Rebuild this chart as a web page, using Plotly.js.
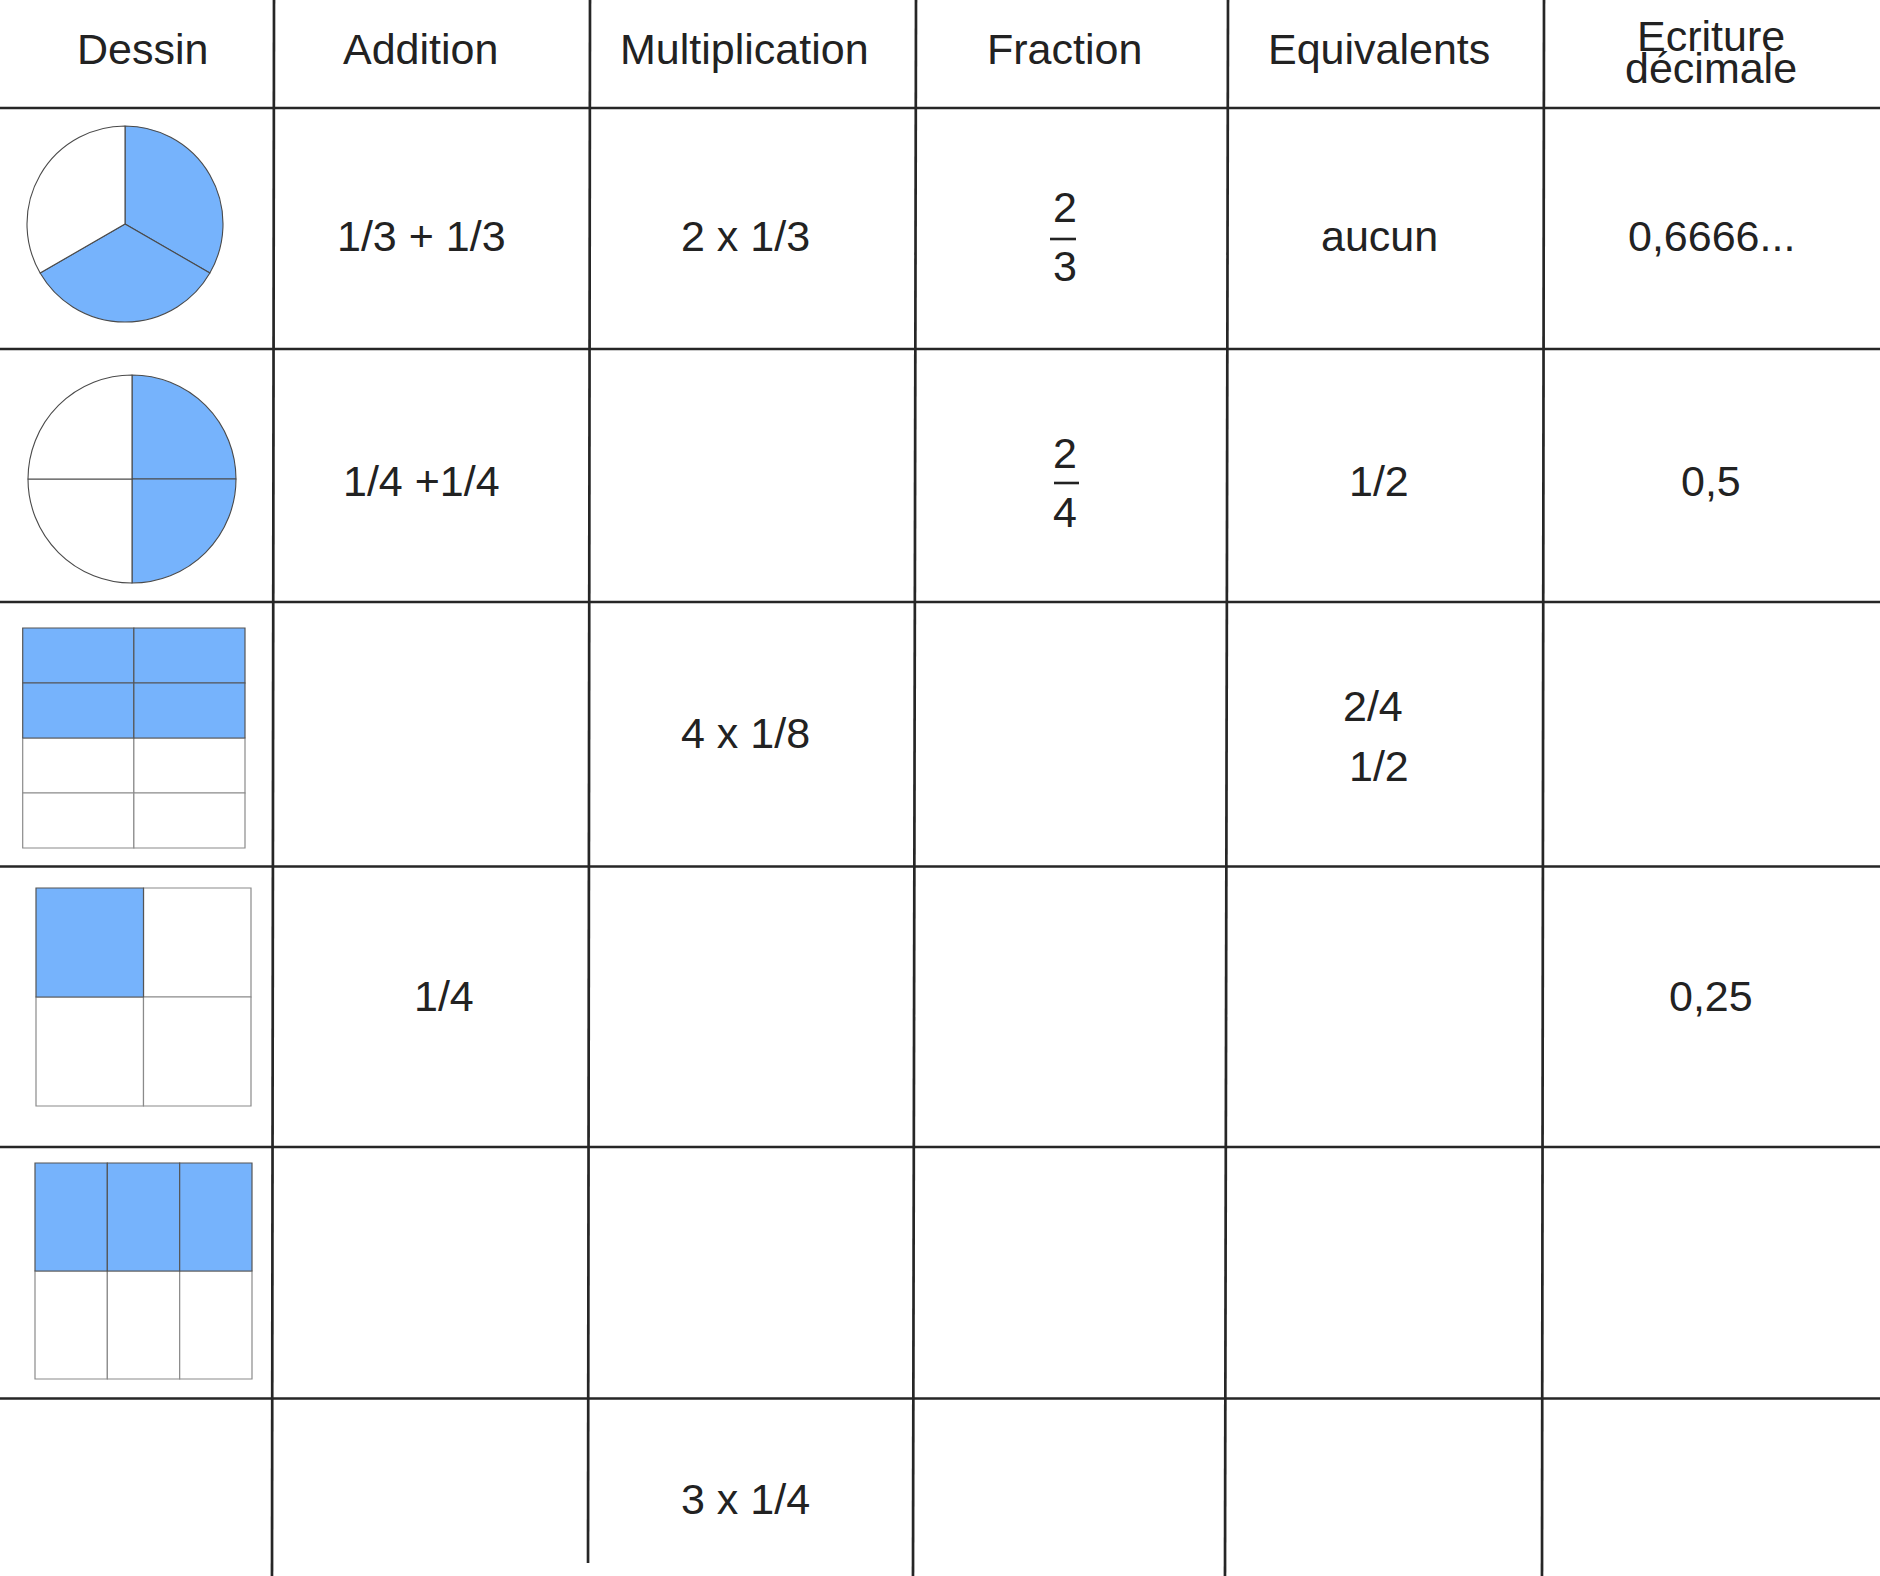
<!DOCTYPE html>
<html>
<head>
<meta charset="utf-8">
<script src="https://cdn.plot.ly/plotly-3.0.1.min.js"></script>
<style>
html,body{margin:0;padding:0;background:#fff;}
#chart{width:1880px;height:1576px;}
</style>
</head>
<body>
<div id="chart"></div>
<script>
// ---------------- DATA ----------------
const headers = ['Dessin', 'Addition', 'Multiplication', 'Fraction', 'Equivalents', 'Ecriture|décimale'];
const additionCol = ['1/3 + 1/3', '1/4 +1/4', '', '1/4', '', ''];
const multiplicationCol = ['2 x 1/3', '', '4 x 1/8', '', '', '3 x 1/4'];
const fractionNum = ['2', '2', '', '', '', ''];
const fractionDen = ['3', '4', '', '', '', ''];
const equivalentsCol = ['aucun', '1/2', '2/4|1/2', '', '', ''];
const decimalCol = ['0,6666...', '0,5', '', '0,25', '', ''];
// drawings: pies (rows 1-2) and rectangular grids (rows 3-5)
const pieParts = [[1, 1, 1], [1, 1, 1, 1]];
const pieShaded = [[1, 1, 0], [1, 1, 0, 0]];
const gridCols = [2, 2, 3];
const gridRows = [4, 2, 2];
const gridShaded = [[1, 1, 1, 1, 0, 0, 0, 0], [1, 0, 0, 0], [1, 1, 1, 0, 0, 0]];

// ---------------- LAYOUT CONSTANTS ----------------
const W = 1880, H = 1576;
const BLUE = '#76b3fc';
const INK = '#222222';
const GRIDC = '#262626';
const FONT = 'Liberation Sans, Arial, sans-serif';
const FS = 43;
// table lines [xTop, xBottom, yEnd]
const vLines = [[274, 272, H], [590, 588, 1563], [916, 913, H], [1228, 1225, H], [1544, 1542, H]];
const hLines = [108, 349, 602, 866.5, 1147, 1398.5];
// text centres
const headX = [142.6, 420.6, 744.6, 1064.7, 1379, 1711];
const headY = 49, headY2 = [35.5, 68];
const rowY = [235.5, 481, 733, 996, 1270, 1499];
const addX = [421, 421, 421, 444, 421, 421];
const mulX = 745, eqX = 1379, decX = 1711;
const eqSplit = [[1373, 705.5], [1379, 765.5]];
const fracX = 1064.7;
const fracNumY = [206.5, 453], fracDenY = [266, 512], fracBarY = [239, 483];
const fracBarX = [[1050, 1076], [1054, 1079]];
// drawing boxes
const pieBox = [[125, 224, 98], [132, 479, 104]];
const gridBox = [[22.7, 628, 245, 848], [36, 888, 251, 1106], [35, 1163, 252, 1379]];

// ---------------- BUILD ----------------
const shapes = [];
const annotations = [];
const traces = [];

function txt(x, y, t) {
  annotations.push({x: x, y: y, xref: 'x', yref: 'y', text: t, showarrow: false,
    xanchor: 'center', yanchor: 'middle', font: {family: FONT, size: FS, color: INK}});
}

// table grid lines
hLines.forEach(y => shapes.push({type: 'line', xref: 'x', yref: 'y', x0: 0, x1: W, y0: y, y1: y,
  line: {color: GRIDC, width: 2.7}}));
vLines.forEach(v => shapes.push({type: 'line', xref: 'x', yref: 'y', x0: v[0], x1: v[1] + (v[0] - v[1]) * (1 - v[2] / H), y0: 0, y1: v[2],
  line: {color: GRIDC, width: 2.7}}));

// headers
headers.forEach((h, i) => {
  const parts = h.split('|');
  if (parts.length === 1) txt(headX[i], headY, parts[0]);
  else parts.forEach((p, k) => txt(headX[i], headY2[k], p));
});

// body columns
additionCol.forEach((t, r) => { if (t) txt(addX[r], rowY[r], t); });
multiplicationCol.forEach((t, r) => { if (t) txt(mulX, rowY[r], t); });
equivalentsCol.forEach((t, r) => {
  if (!t) return;
  const parts = t.split('|');
  if (parts.length === 1) txt(eqX, rowY[r], t);
  else parts.forEach((p, k) => txt(eqSplit[k][0], eqSplit[k][1], p));
});
decimalCol.forEach((t, r) => { if (t) txt(decX, rowY[r], t); });
fractionNum.forEach((n, r) => {
  if (!n) return;
  txt(fracX, fracNumY[r], n);
  txt(fracX, fracDenY[r], fractionDen[r]);
  shapes.push({type: 'line', xref: 'x', yref: 'y', x0: fracBarX[r][0], x1: fracBarX[r][1],
    y0: fracBarY[r], y1: fracBarY[r], line: {color: INK, width: 2.6}});
});

// pies
pieParts.forEach((vals, i) => {
  const [cx, cy, r] = pieBox[i];
  traces.push({type: 'pie', values: vals, sort: false, direction: 'clockwise', rotation: 0,
    marker: {colors: pieShaded[i].map(s => s ? BLUE : '#ffffff'), line: {color: '#4a4a4a', width: 1.1}},
    textinfo: 'none', hoverinfo: 'none', showlegend: false,
    domain: {x: [(cx - r) / W, (cx + r) / W], y: [1 - (cy + r) / H, 1 - (cy - r) / H]}});
});

// rectangular grids
gridCols.forEach((nc, g) => {
  const nr = gridRows[g];
  const [x0, y0, x1, y1] = gridBox[g];
  const cw = (x1 - x0) / nc, ch = (y1 - y0) / nr;
  const cells = [];
  for (let rr = 0; rr < nr; rr++) for (let cc = 0; cc < nc; cc++) cells.push([rr, cc, gridShaded[g][rr * nc + cc]]);
  // white cells first, shaded on top
  cells.sort((a, b) => a[2] - b[2]).forEach(([rr, cc, s]) => {
    shapes.push({type: 'rect', xref: 'x', yref: 'y', layer: 'above',
      x0: x0 + cc * cw, x1: x0 + (cc + 1) * cw, y0: y0 + rr * ch, y1: y0 + (rr + 1) * ch,
      fillcolor: s ? BLUE : '#ffffff',
      line: {color: s ? '#555555' : '#8a8a8a', width: 1.2}});
  });
});

// dummy trace to hold the axes
traces.unshift({type: 'scatter', x: [0, W], y: [0, H], mode: 'markers', marker: {opacity: 0}, hoverinfo: 'none', showlegend: false});

const layout = {
  width: W, height: H,
  margin: {l: 0, r: 0, t: 0, b: 0, pad: 0},
  paper_bgcolor: '#ffffff', plot_bgcolor: '#ffffff',
  xaxis: {range: [0, W], visible: false, fixedrange: true},
  yaxis: {range: [H, 0], visible: false, fixedrange: true},
  shapes: shapes,
  annotations: annotations,
  showlegend: false
};

Plotly.newPlot('chart', traces, layout, {displayModeBar: false, staticPlot: true});
</script>
</body>
</html>
